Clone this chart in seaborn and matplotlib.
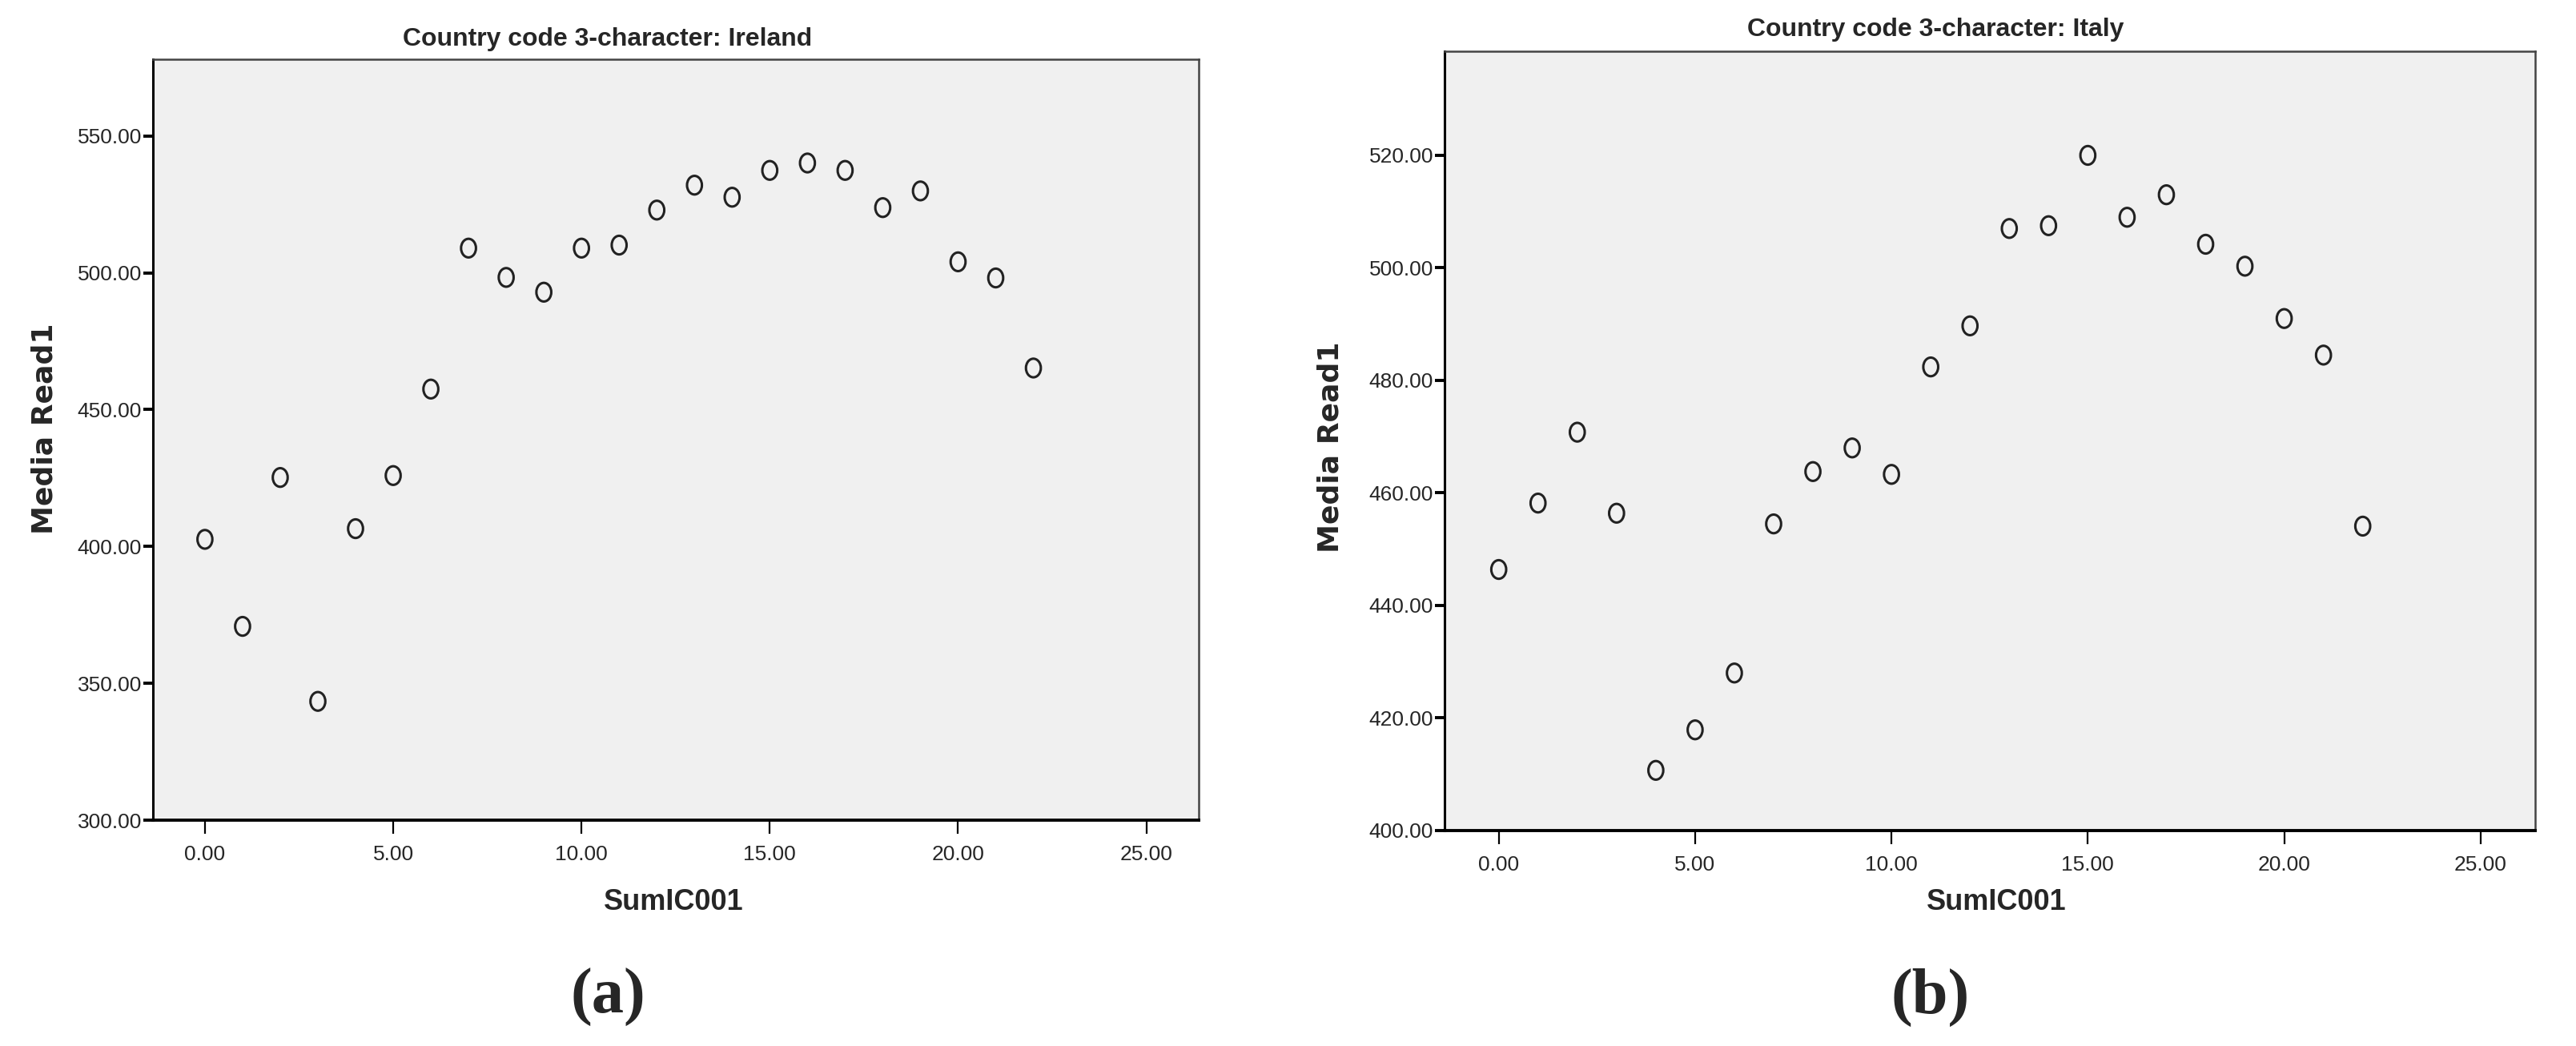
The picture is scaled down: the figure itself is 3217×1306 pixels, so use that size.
import pandas as pd
import matplotlib
matplotlib.use("Agg")
import matplotlib.pyplot as plt
import seaborn as sns
from matplotlib.path import Path
from matplotlib.transforms import Affine2D
from matplotlib.ticker import FormatStrFormatter

############ data
sum_ic001 = list(range(23))
ireland_read = [402.6, 370.8, 425.2, 343.4, 406.5, 425.9, 457.5, 509.0, 498.3, 492.9,
                509.0, 510.1, 522.9, 532.0, 527.6, 537.4, 540.1, 537.4, 523.8, 529.9,
                504.0, 498.1, 465.2]
italy_read = [446.4, 458.2, 470.8, 456.4, 410.7, 417.9, 428.0, 454.5, 463.8, 468.0,
              463.3, 482.4, 489.7, 507.0, 507.5, 520.0, 509.0, 513.0, 504.2, 500.3,
              491.0, 484.5, 454.1]
x_ticks = [0, 5, 10, 15, 20, 25]
ireland_yticks = [300, 350, 400, 450, 500, 550]
italy_yticks = [400, 420, 440, 460, 480, 500, 520]

df_ire = pd.DataFrame({"SumIC001": sum_ic001, "Media Read1": ireland_read})
df_ita = pd.DataFrame({"SumIC001": sum_ic001, "Media Read1": italy_read})

sns.set_style("white")
narrow = ["Liberation Sans Narrow", "Liberation Sans", "DejaVu Sans"]
plt.rcParams["font.family"] = narrow

# slightly tall open circle like the SPSS marker
ell = Affine2D().scale(0.8, 1.0).transform_path(Path.unit_circle())

fig = plt.figure(figsize=(32.17, 13.06), dpi=100)

panels = [
    (df_ire, [191 / 3217, 1 - 1024 / 1306, 1306 / 3217, 950 / 1306], (300, 578), ireland_yticks,
     "Country code 3-character: Ireland", (759, 49), (841, 1126), (55, 535), "(a)", (759, 1245)),
    (df_ita, [1804 / 3217, 1 - 1037 / 1306, 1362 / 3217, 973 / 1306], (400, 538.5), italy_yticks,
     "Country code 3-character: Italy", (2417, 37), (2493, 1126), (1662, 558), "(b)", (2411, 1245)),
]

for d, rect, ylim, yt, title, tpos, xlpos, ylpos, tag, tagpos in panels:
    ax = fig.add_axes(rect)
    ax.set_facecolor("#F0F0F0")
    sns.scatterplot(data=d, x="SumIC001", y="Media Read1", ax=ax, marker=ell, s=280,
                    facecolor="none", edgecolor="#222222", linewidth=2.2)
    ax.set_xlim(-1.38, 26.39)
    ax.set_ylim(*ylim)
    ax.set_xticks(x_ticks)
    ax.set_yticks(yt)
    ax.xaxis.set_major_formatter(FormatStrFormatter("%.2f"))
    ax.yaxis.set_major_formatter(FormatStrFormatter("%.2f"))
    ax.tick_params(axis="x", direction="out", length=12, width=1.6, color="black",
                   labelsize=19, pad=10, bottom=True)
    ax.tick_params(axis="y", direction="out", length=9, width=2.8, color="black",
                   labelsize=19, pad=1, left=True)
    for lab in ax.get_xticklabels() + ax.get_yticklabels():
        lab.set_family(narrow)
    ax.set_xlabel("")
    ax.set_ylabel("")
    ax.spines["left"].set_linewidth(2.2)
    ax.spines["bottom"].set_linewidth(2.8)
    ax.spines["top"].set_linewidth(1.8)
    ax.spines["right"].set_linewidth(1.8)
    ax.spines["top"].set_color("#444444")
    ax.spines["right"].set_color("#444444")
    for sp in ["left", "bottom"]:
        ax.spines[sp].set_color("black")

    fig.text(tpos[0] / 3217, 1 - tpos[1] / 1306, title, ha="center", va="center",
             fontsize=23, fontweight="bold", family=narrow)
    fig.text(xlpos[0] / 3217, 1 - xlpos[1] / 1306, "SumIC001", ha="center", va="center",
             fontsize=26, fontweight="bold", family=narrow)
    fig.text(ylpos[0] / 3217, 1 - ylpos[1] / 1306, "Media Read1", ha="center", va="center",
             rotation=90, fontsize=26, fontweight="bold", family=["DejaVu Sans"])
    fig.text(tagpos[0] / 3217, 1 - tagpos[1] / 1306, tag, ha="center", va="center",
             fontsize=58, fontweight="bold", family=["Liberation Serif", "DejaVu Serif"])

fig.savefig("out.png", dpi=100)
